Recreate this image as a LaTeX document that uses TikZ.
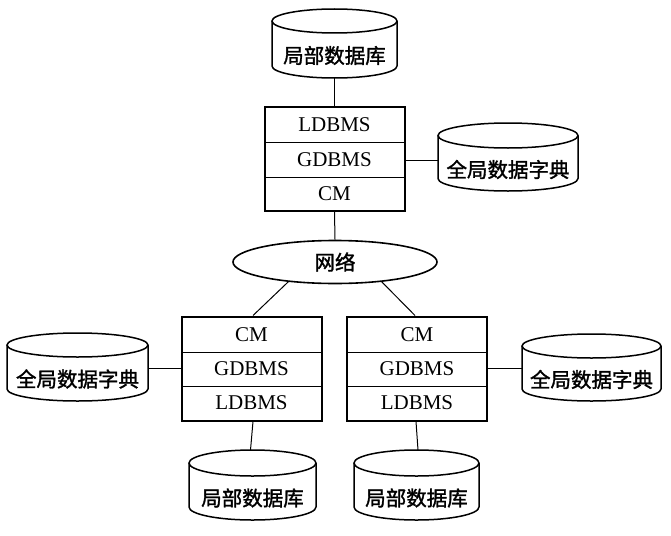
\documentclass[tikz,border=0pt]{standalone}
\usepackage{fontspec}
\setmainfont{Liberation Serif}
\newfontfamily\cjk[FakeBold=1.5]{Noto Sans CJK SC}
\usetikzlibrary{shapes.geometric}
\tikzset{
  cylline/.style={line width=1.5pt, fill=white},
  cjktxt/.style={font=\cjk\fontsize{20.5}{22}\selectfont, inner sep=0pt},
  lab/.style={font=\fontsize{21}{23}\selectfont, inner sep=0pt},
  box/.style={draw, line width=2pt, minimum width=140pt, minimum height=104pt, inner sep=0pt},
  div/.style={line width=1pt},
  conn/.style={line width=1pt},
  net/.style={draw, ellipse, line width=1.6pt, minimum width=204pt, minimum height=43pt, inner sep=0pt,
    font=\cjk\fontsize{20.5}{22}\selectfont}
}
% name, cx, ytop, ybot, rx, ry, text
\newcommand\mycyl[7]{%
  \draw[cylline] ({#2-#5},{-#3-#6}) -- ({#2-#5},{-#4+#6})
     arc[start angle=180,end angle=360,x radius=#5,y radius=#6] -- ({#2+#5},{-#3-#6});
  \draw[cylline] (#2,{-#3-#6}) ellipse [x radius=#5, y radius=#6];
  \node[cjktxt] (#1) at (#2,{-(#3+2*#6+#4)/2}) {#7};
  \coordinate (#1-top) at (#2,-#3);
  \coordinate (#1-bot) at (#2,-#4);
  \coordinate (#1-e) at ({#2+#5},{-(#3+#4)/2});
  \coordinate (#1-w) at ({#2-#5},{-(#3+#4)/2});
}
\begin{document}
\begin{tikzpicture}[x=1pt,y=1pt]
\useasboundingbox (0,0) rectangle (671,-535);
% cylinders
\mycyl{topdb}{334.5}{9}{78}{62.5}{12}{局部数据库}
\mycyl{tdict}{508}{123}{191}{70}{12.5}{全局数据字典}
\mycyl{ldict}{77.5}{333}{401}{70.5}{12}{全局数据字典}
\mycyl{rdict}{591.5}{334}{401}{69.5}{12}{全局数据字典}
\mycyl{bdb1}{252.5}{450}{520}{63.5}{13}{局部数据库}
\mycyl{bdb2}{416.5}{450}{520}{62.5}{13}{局部数据库}
% top box
\node[box] (tbox) at (334.5,-159) {};
\draw[div] (265,-142) -- (404,-142);
\draw[div] (265,-177) -- (404,-177);
\node[lab] (t1) at (334.5,-124.5) {LDBMS};
\node[lab] (t2) at (334.5,-159.5) {GDBMS};
\node[lab] (t3) at (334.5,-194) {CM};
% left box
\node[box] (lbox) at (251.5,-368.5) {};
\draw[div] (182,-352) -- (321,-352);
\draw[div] (182,-386) -- (321,-386);
\node[lab] (l1) at (251.5,-335) {CM};
\node[lab] (l2) at (251.5,-369) {GDBMS};
\node[lab] (l3) at (251.5,-403) {LDBMS};
% right box
\node[box] (rbox) at (417,-368.5) {};
\draw[div] (348,-352) -- (486,-352);
\draw[div] (348,-386) -- (486,-386);
\node[lab] (r1) at (417,-335) {CM};
\node[lab] (r2) at (417,-369) {GDBMS};
\node[lab] (r3) at (417,-403) {LDBMS};
% network
\node[net] (net) at (335,-262) {网络};
% connectors
\draw[conn] (topdb-bot) -- (tbox.north);
\draw[conn] (tbox.east |- 0,-160) -- (tdict-w |- 0,-160);
\draw[conn] (tbox.south) -- (net.north);
\draw[conn] (net.203) -- ([xshift=1.5pt]lbox.north);
\draw[conn] (net.337) -- ([xshift=-2pt]rbox.north);
\draw[conn] (ldict-e |- 0,-368) -- (lbox.west |- 0,-368);
\draw[conn] (rbox.east |- 0,-368) -- (rdict-w |- 0,-368);
\draw[conn] ([xshift=1.5pt]lbox.south) -- ([xshift=-2pt]bdb1-top);
\draw[conn] ([xshift=-1pt]rbox.south) -- ([xshift=1.5pt]bdb2-top);
\end{tikzpicture}
\end{document}
